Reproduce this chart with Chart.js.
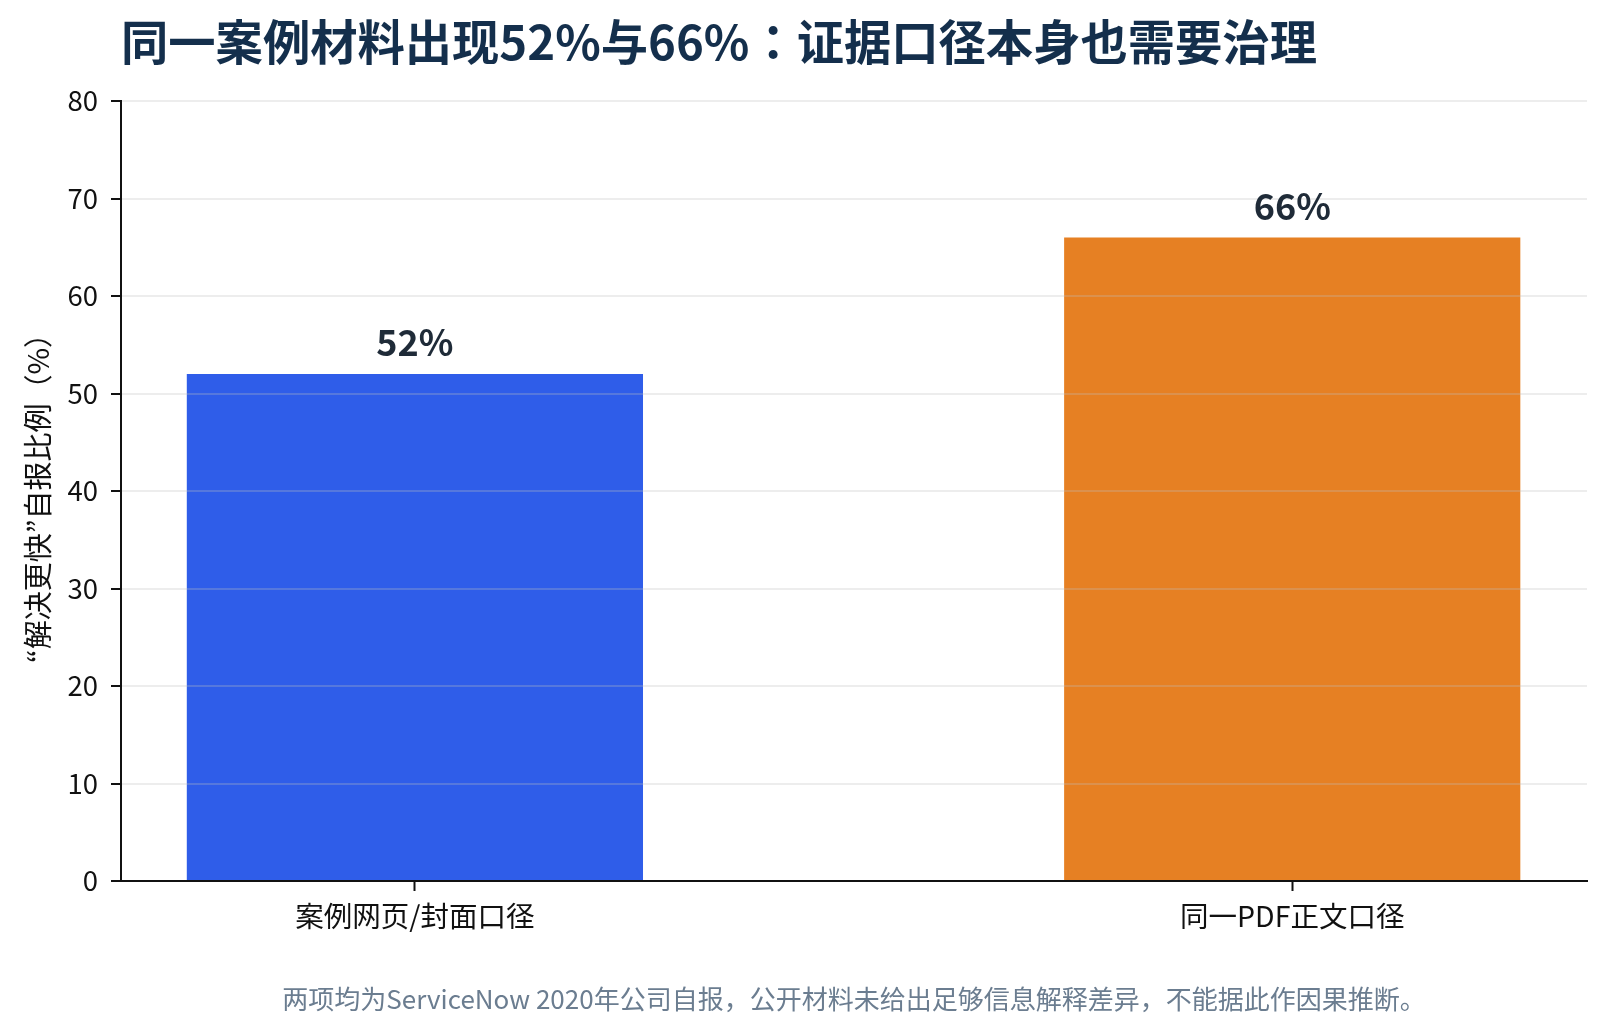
<!DOCTYPE html>
<html>
<head>
<meta charset="utf-8">
<script src="https://cdn.jsdelivr.net/npm/chart.js@4.4.1/dist/chart.umd.min.js"></script>
<style>
  html, body { margin: 0; padding: 0; background: #fff; }
  #wrap { position: relative; width: 1608px; height: 1036px; }
  #title {
    position: absolute; left: 121px; top: 16px;
    font: bold 47.3px/47px "Noto Sans CJK JP"; color: #142f4c; white-space: nowrap;
  }
  #note {
    position: absolute; left: 854px; top: 985px; transform: translateX(-50%);
    font: 26px/26px "Noto Sans CJK JP"; color: #6b7d90; white-space: nowrap;
  }
</style>
</head>
<body>
<div id="wrap">
  <canvas id="myChart"></canvas>
  <div id="title">同一案例材料出现52%与66%：证据口径本身也需要治理</div>
  <div id="note">两项均为ServiceNow 2020年公司自报，公开材料未给出足够信息解释差异，不能据此作因果推断。</div>
</div>
<script>
const categories = ['案例网页/封面口径', '同一PDF正文口径'];
const values = [52, 66];
const barColors = ['#2f5de9', '#e68023'];
const yTicks = [0, 10, 20, 30, 40, 50, 60, 70, 80];

Chart.defaults.font.family = '"Noto Sans CJK JP"';

// подписи над столбцами
const valueLabels = {
  id: 'valueLabels',
  afterDraw(chart) {
    const ctx = chart.ctx;
    const meta = chart.getDatasetMeta(0);
    ctx.save();
    ctx.font = 'bold 36px "Noto Sans CJK JP"';
    ctx.fillStyle = '#1f2b38';
    ctx.textAlign = 'center';
    ctx.textBaseline = 'alphabetic';
    meta.data.forEach((bar, i) => {
      ctx.fillText(values[i] + '%', bar.x, bar.y - 18);
    });
    ctx.restore();
  }
};

const ctx = document.getElementById('myChart');

new Chart(ctx, {
  type: 'bar',
  data: {
    datasets: [{
      data: values.map((v, i) => ({ x: i, y: v })),
      backgroundColor: barColors,
      borderWidth: 0,
      categoryPercentage: 1,
      barPercentage: 0.52
    }]
  },
  plugins: [valueLabels],
  options: {
    responsive: true,
    maintainAspectRatio: false,
    animation: false,
    layout: { padding: { left: 0, right: 21, top: 101, bottom: 75 } },
    plugins: {
      legend: { display: false },
      tooltip: { enabled: false }
    },
    scales: {
      x: {
        type: 'linear',
        min: -0.335,
        max: 1.336,
        offset: false,
        afterBuildTicks: (scale) => { scale.ticks = categories.map((c, i) => ({ value: i })); },
        afterFit: (scale) => { scale.height = 80; },
        ticks: {
          callback: (v) => categories[v],
          autoSkip: false,
          maxRotation: 0,
          padding: 8,
          font: { size: 28.5 },
          color: '#111111'
        },
        grid: {
          offset: false,
          drawOnChartArea: false,
          drawTicks: true,
          tickLength: 10,
          tickColor: '#111111',
          tickWidth: 2
        },
        border: { display: true, color: '#111111', width: 2, z: 2 }
      },
      y: {
        min: 0,
        max: 80,
        z: 1,
        afterBuildTicks: (scale) => { scale.ticks = yTicks.map(v => ({ value: v })); },
        afterFit: (scale) => { scale.width = 121; },
        ticks: {
          padding: 13,
          font: { size: 27.5 },
          color: '#111111'
        },
        grid: {
          z: 1,
          color: 'rgba(190,190,190,0.28)',
          lineWidth: 2,
          drawTicks: true,
          tickLength: 10,
          tickColor: '#111111',
          tickWidth: 2
        },
        border: { display: true, color: '#111111', width: 2, z: 2 },
        title: {
          display: true,
          text: '“解决更快”自报比例（%）',
          font: { size: 29 },
          color: '#111111',
          padding: { top: 21, bottom: 0 }
        }
      }
    }
  }
});
</script>
</body>
</html>
